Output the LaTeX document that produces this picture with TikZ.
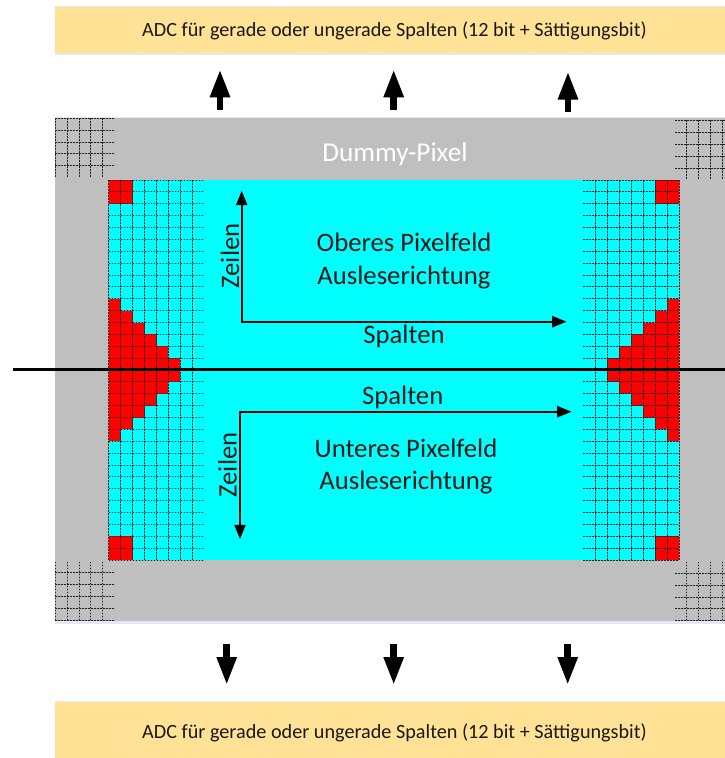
\documentclass[tikz,border=0pt]{standalone}
\usepackage{fontspec}
\setmainfont{Carlito}
\usetikzlibrary{arrows.meta}
\definecolor{adcfill}{HTML}{FFE296}
\definecolor{dummygray}{HTML}{BFBFBF}
\definecolor{softshadow}{HTML}{E4E9F1}
\definecolor{fieldcyan}{HTML}{00FFFF}
\definecolor{pixelred}{HTML}{FF0000}
\tikzset{
  x=1pt,y=-1pt,
  adcbox/.style={fill=adcfill,draw=none,inner sep=0pt,minimum width=670pt},
  shadowbar/.style={fill=softshadow,draw=none},
  gridline/.style={draw=black!85,line width=1pt,dash pattern=on 1.5pt off 1.5pt},
  gridsoft/.style={draw=black,opacity=0.15,line width=1.4pt},
  blockarrow/.style={line width=6.6pt,-{Triangle[length=28pt,width=18.6pt]}},
  axisline/.style={line width=2.4pt,line cap=rect,-{Triangle[length=14.5pt,width=11pt]}},
  lbl/.style={anchor=base,inner sep=0pt,font=\fontsize{26.7}{28}\selectfont,text=black!90},
  adclbl/.style={anchor=base,inner sep=0pt,font=\fontsize{20.2}{22}\selectfont,text=black!90},
  redcell/.style={fill=pixelred,draw=none},
}
% one grid line: a soft solid underlay and a dotted line, snapped to the pixel raster
\newcommand{\hgl}[3]{% y, x1, x2
  \pgfmathsetmacro{\yy}{round(#1)+0.5}
  \draw[gridsoft] (#2,\yy) -- (#3,\yy);
  \draw[gridline] (#2,\yy) -- (#3,\yy);}
\newcommand{\vgl}[3]{% x, y1, y2
  \pgfmathsetmacro{\xx}{round(#1)+0.5}
  \draw[gridsoft] (\xx,#2) -- (\xx,#3);
  \draw[gridline] (\xx,#2) -- (\xx,#3);}
\newcommand{\redrow}[2]{% row index, columns from the outer edge
  \foreach \c in {1,...,#2}{
    \fill[redcell] ({108.9+(\c-1)*11.9},{180+#1*11.875}) rectangle ++(11.9,11.875);
    \fill[redcell] ({679-(\c-1)*11.96},{180+#1*11.875}) rectangle ++(-11.96,11.875);
  }}
\begin{document}
\begin{tikzpicture}
\useasboundingbox (0,0) rectangle (725,758);
% soft shadows
\fill[shadowbar] (55,52) rectangle (725,55);
\fill[shadowbar] (55,5.5) rectangle (725,8);
\fill[shadowbar] (55,620) rectangle (725,623.5);
\fill[shadowbar] (55,117) rectangle (725,120);
\fill[shadowbar] (55,700.5) rectangle (725,703);
% ADC boxes
\node[adcbox,minimum height=46.5pt] (adctop) at (390,29.8) {};
\node[adcbox,minimum height=56pt] (adcbot) at (390,730) {};
\node[adclbl] (adctoptext) at (394.5,36) {ADC für gerade oder ungerade Spalten (12 bit + Sättigungsbit)};
\node[adclbl] (adcbottext) at (394.5,738) {ADC für gerade oder ungerade Spalten (12 bit + Sättigungsbit)};
% dummy pixel frame and pixel field
\fill[dummygray] (55,118.3) rectangle (725,621);
\fill[fieldcyan] (108.7,180) rectangle (679,560);
% red pixels
\foreach \r in {0,1,30,31}{\redrow{\r}{2}}
\foreach \r/\n in {10/1,11/2,12/3,13/4,14/5,15/6,16/6,17/5,18/4,19/3,20/2,21/1}{\redrow{\r}{\n}}
% pixel grid
\foreach \k in {0,...,32}{
  \pgfmathsetmacro{\ry}{179.5+\k*11.875}
  \hgl{\ry}{108.9}{203.5}
  \hgl{\ry}{583}{679}
}
\foreach \k in {0,...,7}{
  \pgfmathsetmacro{\cl}{108.4+\k*11.9}
  \pgfmathsetmacro{\cr}{678.5-\k*11.96}
  \vgl{\cl}{180}{560}
  \vgl{\cr}{180}{560}
}
% dummy pixel grids
\foreach \k in {0,...,4}{
  \pgfmathsetmacro{\a}{117.8+\k*11.9}
  \pgfmathsetmacro{\b}{572.3+\k*11.9}
  \pgfmathsetmacro{\c}{54.8+\k*11.85}
  \pgfmathsetmacro{\d}{119.5+\k*12}
  \pgfmathsetmacro{\e}{572.8+\k*11.9}
  \hgl{\a}{55}{115}
  \vgl{\c}{118.3}{177}
  \hgl{\b}{55}{115}
  \vgl{\c}{561.7}{621}
  \hgl{\d}{675}{725}
  \hgl{\e}{675}{725}
}
\foreach \k in {0,...,3}{
  \pgfmathsetmacro{\f}{686.2+\k*12}
  \vgl{\f}{120}{179}
  \vgl{\f}{561.7}{621}
}
% labels
\node[lbl,text=white,font=\fontsize{27.2}{29}\selectfont] (dummy) at (395,161) {Dummy-Pixel};
\node[lbl] (oben1) at (404,251.5) {Oberes Pixelfeld};
\node[lbl] (oben2) at (404,284) {Ausleserichtung};
\node[lbl] (unten1) at (406,457) {Unteres Pixelfeld};
\node[lbl] (unten2) at (406,489.5) {Ausleserichtung};
\node[lbl] (spaltenO) at (404,343.5) {Spalten};
\node[lbl] (spaltenU) at (402.7,404.5) {Spalten};
\node[lbl,rotate=90] (zeilenO) at (239,256) {Zeilen};
\node[lbl,rotate=90] (zeilenU) at (236.5,465) {Zeilen};
% axes
\coordinate (oO) at (241.7,321.7);
\coordinate (oOup) at (241.7,190.7);
\coordinate (oOright) at (566.7,321.7);
\coordinate (uO) at (240,411.7);
\coordinate (uOdown) at (240,539.3);
\coordinate (uOright) at (571.7,411.7);
\draw[axisline] (oO) -- (oOup);
\draw[axisline] (oO) -- (oOright);
\draw[axisline] (uO) -- (uOdown);
\draw[axisline] (uO) -- (uOright);
% split line
\coordinate (splitL) at (13,369.5);
\coordinate (splitR) at (725,369.5);
\draw[line width=2.6pt] (splitL) -- (splitR);
% readout arrows
\foreach \n/\x/\a/\b in {a/220/110/69.3,b/393.7/110/69.3,c/568/112/71.5}{
  \coordinate (up\n s) at (\x,\a);
  \coordinate (up\n e) at (\x,\b);
  \draw[blockarrow] (up\n s) -- (up\n e);
}
\foreach \n/\x in {a/226.7,b/393.7,c/567.7}{
  \coordinate (dn\n s) at (\x,644.3);
  \coordinate (dn\n e) at (\x,685);
  \draw[blockarrow] (dn\n s) -- (dn\n e);
}
\end{tikzpicture}
\end{document}
